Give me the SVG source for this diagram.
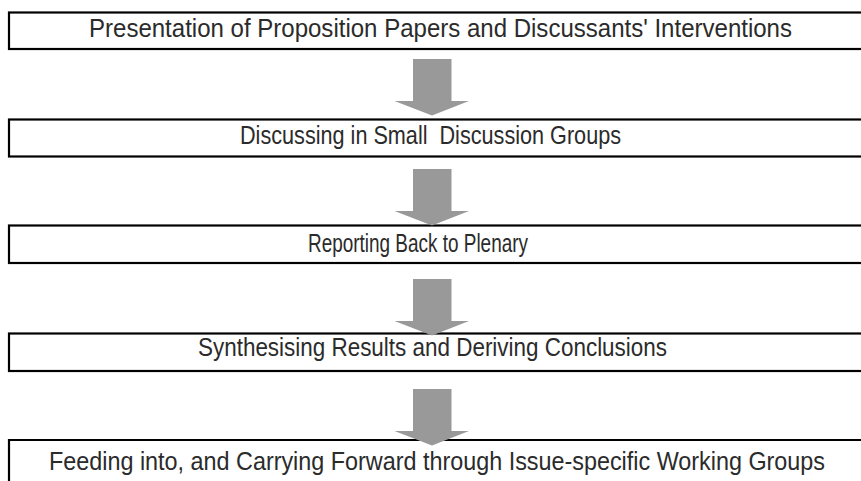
<svg xmlns="http://www.w3.org/2000/svg" width="861" height="481" viewBox="0 0 861 481">
<defs>
<style>
.box{fill:#fff;stroke:#000;stroke-width:2.2}
.lbl{font-family:"Liberation Sans",Arial,sans-serif;font-size:25px;fill:#2b2b2b}
.arr{fill:#999}
</style>
<path id="arrow" d="M413,0 H451.5 V42 H469 L432,56.5 L394.5,42 H413 Z"/>
</defs>
<rect width="861" height="481" fill="#fff"/>
<g id="n1"><rect class="box" x="9" y="12.5" width="870" height="36.5"/>
<text class="lbl" x="89" y="37.3" textLength="703" lengthAdjust="spacingAndGlyphs">Presentation of Proposition Papers and Discussants' Interventions</text></g>
<g id="n2"><rect class="box" x="9" y="119.5" width="870" height="37"/>
<text class="lbl" x="240" y="144" textLength="381" lengthAdjust="spacingAndGlyphs" xml:space="preserve">Discussing in Small  Discussion Groups</text></g>
<g id="n3"><rect class="box" x="9" y="225.5" width="870" height="37.5"/>
<text class="lbl" x="308" y="252" textLength="220" lengthAdjust="spacingAndGlyphs">Reporting Back to Plenary</text></g>
<g id="n4"><rect class="box" x="9" y="333.5" width="870" height="37.5"/>
<text class="lbl" x="198" y="356" textLength="469" lengthAdjust="spacingAndGlyphs">Synthesising Results and Deriving Conclusions</text></g>
<g id="n5"><path class="box" d="M9,481 V440 H861"/>
<text class="lbl" x="49" y="470" textLength="776" lengthAdjust="spacingAndGlyphs">Feeding into, and Carrying Forward through Issue-specific Working Groups</text></g>
<g id="connectors" class="arr">
<use href="#arrow" transform="translate(0,59)"/>
<use href="#arrow" transform="translate(0,169)"/>
<use href="#arrow" transform="translate(0,279)"/>
<use href="#arrow" transform="translate(0,389)"/>
</g>
</svg>
